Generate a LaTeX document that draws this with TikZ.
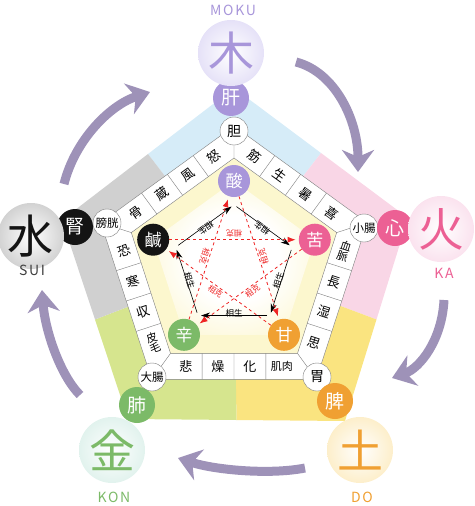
\documentclass[tikz,border=0pt]{standalone}
\usepackage{fontspec}
\newfontfamily\jp{Noto Sans CJK JP}
\newfontfamily\romanji[LetterSpace=12]{Noto Sans CJK JP}
\usetikzlibrary{calc,arrows.meta}

\definecolor{woodbg}{RGB}{214,236,248}
\definecolor{firebg}{RGB}{249,214,230}
\definecolor{earthbg}{RGB}{250,228,128}
\definecolor{metalbg}{RGB}{214,229,142}
\definecolor{waterbg}{RGB}{208,208,208}
\definecolor{woodc}{RGB}{168,150,218}
\definecolor{firec}{RGB}{236,96,148}
\definecolor{earthc}{RGB}{240,160,50}
\definecolor{metalc}{RGB}{124,186,104}
\definecolor{waterc}{RGB}{20,20,20}
\definecolor{woodball}{RGB}{204,196,240}
\definecolor{fireball}{RGB}{246,198,222}
\definecolor{earthball}{RGB}{250,222,150}
\definecolor{metalball}{RGB}{196,230,220}
\definecolor{waterball}{RGB}{165,165,165}
\definecolor{innerbg}{RGB}{252,247,206}
\definecolor{innerglow}{RGB}{250,238,160}
\definecolor{bigarrow}{RGB}{158,146,184}
\definecolor{bandline}{RGB}{125,125,125}
\definecolor{kered}{RGB}{238,36,36}

\pgfdeclareradialshading{woodglow}{\pgfpoint{0bp}{0bp}}{color(0bp)=(white); color(50bp)=(woodball)}
\pgfdeclareradialshading{fireglow}{\pgfpoint{0bp}{0bp}}{color(0bp)=(white); color(50bp)=(fireball)}
\pgfdeclareradialshading{earthglow}{\pgfpoint{0bp}{0bp}}{color(0bp)=(white); color(50bp)=(earthball)}
\pgfdeclareradialshading{metalglow}{\pgfpoint{0bp}{0bp}}{color(0bp)=(white); color(50bp)=(metalball)}
\pgfdeclareradialshading{waterglow}{\pgfpoint{0bp}{0bp}}{color(0bp)=(white); color(50bp)=(waterball)}
\pgfdeclareradialshading{centreglow}{\pgfpoint{0bp}{0bp}}{color(0bp)=(white); color(14bp)=(white); color(50bp)=(innerglow)}

\begin{document}
\begin{tikzpicture}[x=1pt, y=-1pt,
  big/.style={circle, minimum size=66pt, inner sep=0pt, font=\jp\fontsize{46}{46}\selectfont},
  romaji/.style={font=\romanji\fontsize{14}{14}\selectfont},
  organ/.style={circle, minimum size=36pt, inner sep=0pt, text=white, font=\jp\fontsize{19}{19}\selectfont},
  taste/.style={circle, minimum size=32pt, inner sep=0pt, text=white, font=\jp\fontsize{17}{17}\selectfont},
  fu/.style={circle, draw=bandline, fill=white, minimum size=28pt, inner sep=0pt, font=\jp\fontsize{14}{14}\selectfont},
  fusmall/.style={fu, font=\jp\fontsize{11.5}{11.5}\selectfont},
  cell/.style={inner sep=0pt, font=\jp\fontsize{13}{13}\selectfont},
  cellpair/.style={cell, align=center, font=\jp\fontsize{11}{11}\selectfont},
  sheng/.style={semithick, shorten <=3pt, shorten >=3pt, -{Stealth[length=9pt,width=6pt]}},
  shenglabel/.style={inner sep=0pt, font=\jp\fontsize{8.5}{8.5}\selectfont},
  ke/.style={kered, thick, dashed, shorten >=3pt, -{Latex[length=8pt,width=6pt]}},
  kelabel/.style={inner sep=0pt, text=kered, font=\jp\fontsize{8}{8}\selectfont},
  flow/.style={bigarrow, line width=9pt, -{Stealth[length=22pt,width=32pt,inset=7pt]}}]

\useasboundingbox (0,0) rectangle (474,506);

% coloured background
\coordinate (center) at (234,266);
\coordinate (p0) at (234,88);
\coordinate (p1) at (408,218);
\coordinate (p2) at (345,421);
\coordinate (p3) at (128,419);
\coordinate (p4) at (62,220);
\fill[woodbg] (center) -- ($(p4)!.5!(p0)$) -- (p0) -- ($(p0)!.5!(p1)$) -- cycle;
\fill[firebg] (center) -- ($(p0)!.5!(p1)$) -- (p1) -- ($(p1)!.5!(p2)$) -- cycle;
\fill[earthbg] (center) -- ($(p1)!.5!(p2)$) -- (p2) -- ($(p2)!.5!(p3)$) -- cycle;
\fill[metalbg] (center) -- ($(p2)!.5!(p3)$) -- (p3) -- ($(p3)!.5!(p4)$) -- cycle;
\fill[waterbg] (center) -- ($(p3)!.5!(p4)$) -- (p4) -- ($(p4)!.5!(p0)$) -- cycle;

% band of boxes
\coordinate (o0) at (234,126);
\coordinate (o1) at (367.2,222.7);
\coordinate (o2) at (316.3,379.3);
\coordinate (o3) at (151.7,379.3);
\coordinate (o4) at (100.8,222.7);
\coordinate (i0) at (234,158);
\coordinate (i1) at (336.7,232.6);
\coordinate (i2) at (297.5,353.4);
\coordinate (i3) at (170.5,353.4);
\coordinate (i4) at (131.3,232.6);
\coordinate (m0) at (234,142);
\coordinate (m1) at (351.9,227.7);
\coordinate (m2) at (306.9,366.3);
\coordinate (m3) at (161.1,366.3);
\coordinate (m4) at (116.1,227.7);

\fill[innerbg] (i0) -- (i1) -- (i2) -- (i3) -- (i4) -- cycle;
\shade[shading=centreglow] (234,181) -- (314.8,239.7) -- (284,334.8) -- (184,334.8) -- (153.2,239.7) -- cycle;

\fill[white, even odd rule] (o0) -- (o1) -- (o2) -- (o3) -- (o4) -- cycle (i0) -- (i1) -- (i2) -- (i3) -- (i4) -- cycle;
\draw[bandline] (o0) -- (o1) -- (o2) -- (o3) -- (o4) -- cycle;
\draw[bandline] (i0) -- (i1) -- (i2) -- (i3) -- (i4) -- cycle;
\draw[bandline] (o0) -- (i0) (o1) -- (i1) (o2) -- (i2) (o3) -- (i3) (o4) -- (i4);
\draw[bandline] ($(o0)!.306!(o1)$) -- ($(i0)!.249!(i1)$) ($(o0)!.5!(o1)$) -- ($(i0)!.5!(i1)$) ($(o0)!.694!(o1)$) -- ($(i0)!.751!(i1)$);
\draw[bandline] ($(o1)!.306!(o2)$) -- ($(i1)!.249!(i2)$) ($(o1)!.5!(o2)$) -- ($(i1)!.5!(i2)$) ($(o1)!.694!(o2)$) -- ($(i1)!.751!(i2)$);
\draw[bandline] ($(o2)!.306!(o3)$) -- ($(i2)!.249!(i3)$) ($(o2)!.5!(o3)$) -- ($(i2)!.5!(i3)$) ($(o2)!.694!(o3)$) -- ($(i2)!.751!(i3)$);
\draw[bandline] ($(o3)!.306!(o4)$) -- ($(i3)!.249!(i4)$) ($(o3)!.5!(o4)$) -- ($(i3)!.5!(i4)$) ($(o3)!.694!(o4)$) -- ($(i3)!.751!(i4)$);
\draw[bandline] ($(o4)!.306!(o0)$) -- ($(i4)!.249!(i0)$) ($(o4)!.5!(o0)$) -- ($(i4)!.5!(i0)$) ($(o4)!.694!(o0)$) -- ($(i4)!.751!(i0)$);

\node[cell, rotate=-36] (kin) at ($(m0)!.171!(m1)$) {筋};
\node[cell, rotate=-36] (sei) at ($(m0)!.391!(m1)$) {生};
\node[cell, rotate=-36] (sho) at ($(m0)!.610!(m1)$) {暑};
\node[cell, rotate=-36] (ki) at ($(m0)!.830!(m1)$) {喜};
\node[cellpair, rotate=-18] (ketsumyaku) at ($(m1)!.171!(m2)$) {血\\脈};
\node[cell, rotate=-18] (cho) at ($(m1)!.391!(m2)$) {長};
\node[cell, rotate=-18] (shitsu) at ($(m1)!.610!(m2)$) {湿};
\node[cell, rotate=-18] (shi) at ($(m1)!.830!(m2)$) {思};
\node[cellpair] (kiniku) at ($(m2)!.171!(m3)$) {肌肉};
\node[cell] (ka) at ($(m2)!.391!(m3)$) {化};
\node[cell] (so) at ($(m2)!.610!(m3)$) {燥};
\node[cell] (hi) at ($(m2)!.830!(m3)$) {悲};
\node[cellpair, rotate=18] (himo) at ($(m3)!.171!(m4)$) {皮\\毛};
\node[cell, rotate=18] (shu) at ($(m3)!.391!(m4)$) {収};
\node[cell, rotate=18] (kan) at ($(m3)!.610!(m4)$) {寒};
\node[cell, rotate=18] (kyo) at ($(m3)!.830!(m4)$) {恐};
\node[cell, rotate=36] (kotsu) at ($(m4)!.171!(m0)$) {骨};
\node[cell, rotate=36] (zo) at ($(m4)!.391!(m0)$) {蔵};
\node[cell, rotate=36] (fu) at ($(m4)!.610!(m0)$) {風};
\node[cell, rotate=36] (do) at ($(m4)!.830!(m0)$) {怒};

% tastes
\node[taste, fill=woodc] (sour) at (234,181) {酸};
\node[taste, fill=firec] (bitter) at (314.8,239.7) {苦};
\node[taste, fill=earthc] (sweet) at (284,334.8) {甘};
\node[taste, fill=metalc] (pungent) at (184,334.8) {辛};
\node[taste, fill=waterc] (salty) at (153.2,239.7) {鹹};

% sosho cycle
\draw[sheng] ($(center)!.72!(sour)$) -- ($(center)!.72!(bitter)$);
\draw[sheng] ($(center)!.72!(bitter)$) -- ($(center)!.72!(sweet)$);
\draw[sheng] ($(center)!.72!(sweet)$) -- ($(center)!.72!(pungent)$);
\draw[sheng] ($(center)!.72!(pungent)$) -- ($(center)!.72!(salty)$);
\draw[sheng] ($(center)!.72!(salty)$) -- ($(center)!.72!(sour)$);
\node[shenglabel, rotate=144] (sheng1) at (262,228) {相生};
\node[shenglabel, rotate=72] (sheng2) at (278.5,280.5) {相生};
\node[shenglabel] (sheng3) at (234,313) {相生};
\node[shenglabel, rotate=-72] (sheng4) at (189.5,280.5) {相生};
\node[shenglabel, rotate=216] (sheng5) at (206,228) {相生};

% sokoku star
\draw[ke] (sour) -- (sweet);
\draw[ke] (sweet) -- (salty);
\draw[ke] (salty) -- (bitter);
\draw[ke] (bitter) -- (pungent);
\draw[ke] (pungent) -- (sour);
\node[kelabel, rotate=180] (ke1) at (234,234) {相克};
\node[kelabel, rotate=108] (ke2) at (263.5,256.5) {相克};
\node[kelabel, rotate=36] (ke3) at (252.5,291.5) {相克};
\node[kelabel, rotate=-36] (ke4) at (215.5,291.5) {相克};
\node[kelabel, rotate=-108] (ke5) at (204.5,256.5) {相克};

% fu organs
\node[fu] (gall) at (234,131) {胆};
\node[fusmall] (smallint) at (364,228) {小腸};
\node[fu] (stomach) at (317,377) {胃};
\node[fusmall] (largeint) at (152,377) {大腸};
\node[fusmall] (bladder) at (107,223) {膀胱};

% zo organs
\node[organ, fill=woodc] (liver) at (231,98) {肝};
\node[organ, fill=firec] (heart) at (395,228) {心};
\node[organ, fill=earthc] (spleen) at (335,401) {脾};
\node[organ, fill=metalc] (lung) at (137,405) {肺};
\node[organ, fill=waterc] (kidney) at (75,227) {腎};

% elements
\node[big, shading=woodglow, text=woodc] (wood) at (231,53) {木};
\node[big, shading=fireglow, text=firec] (fire) at (441,229) {火};
\node[big, shading=earthglow, text=earthc] (earth) at (360,450) {土};
\node[big, shading=metalglow, text=metalc] (metal) at (112,450) {金};
\node[big, shading=waterglow, text=waterc] (water) at (31,236) {水};
\node[romaji, text=woodc] (moku) at (233,10) {MOKU};
\node[romaji, text=firec] (kalabel) at (444,273) {KA};
\node[romaji, text=earthc] (dolabel) at (362,497) {DO};
\node[romaji, text=metalc] (kon) at (114,497) {KON};
\node[romaji, text=black!75] (sui) at (32,270) {SUI};

% big cycle arrows
\coordinate (woodout) at (296,62);
\coordinate (firein) at (358,172);
\coordinate (fireout) at (444,300);
\coordinate (earthin) at (392,378);
\coordinate (earthout) at (305,468);
\coordinate (metalin) at (178,458);
\coordinate (metalout) at (80,395);
\coordinate (waterin) at (42,290);
\coordinate (waterout) at (64,184);
\coordinate (woodin) at (150,92);
\draw[flow] (woodout) .. controls (335,72) and (358,120) .. (firein);
\draw[flow] (fireout) .. controls (442,340) and (420,368) .. (earthin);
\draw[flow] (earthout) .. controls (270,475) and (215,470) .. (metalin);
\draw[flow] (metalout) .. controls (60,375) and (45,330) .. (waterin);
\draw[flow] (waterout) .. controls (75,140) and (110,105) .. (woodin);

\end{tikzpicture}
\end{document}
